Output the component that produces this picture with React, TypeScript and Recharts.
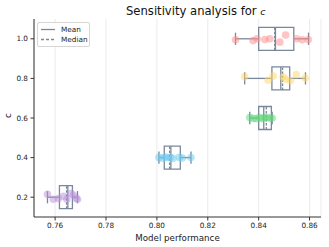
import React from 'react';
import {
  ComposedChart, Scatter, XAxis, YAxis, CartesianGrid, ReferenceArea, ReferenceLine, Label,
} from 'recharts';

// categories (c values)
const CATEGORIES = [0.2, 0.4, 0.6, 0.8, 1.0];
const Y_TICKS = [0.2, 0.4, 0.6, 0.8, 1.0];
const X_TICKS = [0.76, 0.78, 0.8, 0.82, 0.84, 0.86];

// box statistics per category
const WHISKER_LOW = [0.757, 0.8008, 0.8365, 0.8345, 0.8309];
const Q1 = [0.7617, 0.8029, 0.84, 0.8452, 0.84];
const MEDIAN = [0.7645, 0.805, 0.843, 0.8494, 0.8463];
const MEAN = [0.765, 0.8055, 0.842, 0.8487, 0.8466];
const Q3 = [0.7668, 0.8092, 0.845, 0.8522, 0.8538];
const WHISKER_HIGH = [0.7688, 0.8134, 0.8453, 0.8584, 0.8596];

// individual runs (model performance) and their jittered c positions
const PERF_02 = [0.757, 0.7593, 0.7613, 0.7633, 0.7646, 0.7663, 0.7672, 0.7683, 0.7688];
const JIT_02 = [0.215, 0.19, 0.193, 0.205, 0.19, 0.22, 0.21, 0.195, 0.19];
const PERF_04 = [0.8008, 0.8021, 0.8033, 0.8043, 0.8053, 0.8063, 0.8088, 0.81, 0.8134];
const JIT_04 = [0.401, 0.397, 0.403, 0.399, 0.402, 0.396, 0.401, 0.398, 0.4];
const PERF_06 = [0.8365, 0.8378, 0.8391, 0.8403, 0.8413, 0.8423, 0.8433, 0.8444, 0.8453];
const JIT_06 = [0.602, 0.598, 0.596, 0.603, 0.597, 0.601, 0.604, 0.599, 0.6];
const PERF_08 = [0.8345, 0.8437, 0.8457, 0.8496, 0.8505, 0.8525, 0.8548, 0.8583];
const JIT_08 = [0.809, 0.791, 0.812, 0.807, 0.796, 0.789, 0.819, 0.802];
const PERF_10 = [0.8309, 0.8378, 0.8394, 0.8424, 0.8444, 0.8483, 0.8506, 0.8549, 0.8571, 0.8595];
const JIT_10 = [0.995, 0.991, 1.0, 0.996, 1.0, 0.983, 1.019, 1.0, 0.995, 0.996];

const POINT_COLORS = ['#b991dc', '#6cc9f0', '#62d67a', '#ffd866', '#ff8a8a'];
const BOX_COLOR = '#7a889c';
const BOX_HALF = 0.058;
const CAP_HALF = 0.031;

const SERIES = [
  [PERF_02, JIT_02],
  [PERF_04, JIT_04],
  [PERF_06, JIT_06],
  [PERF_08, JIT_08],
  [PERF_10, JIT_10],
].map(([xs, ys], i) => ({ color: POINT_COLORS[i], data: xs.map((x, j) => ({ x, y: ys[j] })) }));

const FONT = 'DejaVu Sans, sans-serif';

export default function App() {
  const boxes: React.ReactNode[] = [];
  CATEGORIES.forEach((c, i) => {
    const k = `b${i}`;
    boxes.push(
      <ReferenceLine key={k + 'wl'} segment={[{ x: WHISKER_LOW[i], y: c }, { x: Q1[i], y: c }]} stroke={BOX_COLOR} strokeWidth={1.3} />,
      <ReferenceLine key={k + 'wh'} segment={[{ x: Q3[i], y: c }, { x: WHISKER_HIGH[i], y: c }]} stroke={BOX_COLOR} strokeWidth={1.3} />,
      <ReferenceLine key={k + 'cl'} segment={[{ x: WHISKER_LOW[i], y: c - CAP_HALF }, { x: WHISKER_LOW[i], y: c + CAP_HALF }]} stroke={BOX_COLOR} strokeWidth={1.3} />,
      <ReferenceLine key={k + 'ch'} segment={[{ x: WHISKER_HIGH[i], y: c - CAP_HALF }, { x: WHISKER_HIGH[i], y: c + CAP_HALF }]} stroke={BOX_COLOR} strokeWidth={1.3} />,
      <ReferenceArea key={k + 'box'} x1={Q1[i]} x2={Q3[i]} y1={c - BOX_HALF} y2={c + BOX_HALF} fill="none" fillOpacity={0} stroke={BOX_COLOR} strokeWidth={1.3} strokeOpacity={1} />,
      <ReferenceLine key={k + 'mean'} segment={[{ x: MEAN[i], y: c - BOX_HALF }, { x: MEAN[i], y: c + BOX_HALF }]} stroke={BOX_COLOR} strokeWidth={1.3} />,
      <ReferenceLine key={k + 'med'} segment={[{ x: MEDIAN[i], y: c - BOX_HALF }, { x: MEDIAN[i], y: c + BOX_HALF }]} stroke={BOX_COLOR} strokeWidth={1.3} strokeDasharray="2.5 1.5" />,
    );
  });

  return (
    <div style={{ position: 'absolute', left: 0, top: 0, width: 329, height: 247, background: '#fff', fontFamily: FONT }}>
      <ComposedChart width={329} height={247} margin={{ top: 19, right: 8, bottom: 0, left: 0 }}>
        <CartesianGrid horizontal={false} stroke="#e6e6e6" strokeWidth={0.8} />
        <XAxis
          type="number" dataKey="x" domain={[0.7517, 0.8645]} ticks={X_TICKS} allowDataOverflow
          tickFormatter={(v: number) => v.toFixed(2)} height={30} tickSize={3.5} tickMargin={2}
          stroke="#333" tick={{ fill: '#222', fontSize: 7.3, fontFamily: FONT }}
        >
          <Label value="Model performance" position="insideBottom" offset={6} style={{ fontSize: 8.7, fill: '#222', fontFamily: FONT }} />
        </XAxis>
        <YAxis
          type="number" dataKey="y" domain={[0.1, 1.1]} ticks={Y_TICKS} allowDataOverflow
          tickFormatter={(v: number) => v.toFixed(1)} width={34} tickSize={3.5} tickMargin={2.5}
          stroke="#333" tick={{ fill: '#222', fontSize: 7.3, fontFamily: FONT }}
        >
          <Label value="c" angle={-90} position="insideLeft" offset={8} style={{ fontSize: 8.7, fill: '#222', fontFamily: FONT }} />
        </YAxis>
        <XAxis xAxisId="top" orientation="top" type="number" domain={[0.7517, 0.8645]} height={0} tick={false} tickLine={false} stroke="#333" />
        <YAxis yAxisId="right" orientation="right" type="number" domain={[0.1, 1.1]} width={0} tick={false} tickLine={false} stroke="#333" />
        {SERIES.map((s, i) => (
          <Scatter
            key={i} data={s.data} isAnimationActive={false}
            shape={(p: any) => <circle cx={p.cx} cy={p.cy} r={3.8} fill={s.color} fillOpacity={0.5} />}
          />
        ))}
        {boxes}
      </ComposedChart>
      <div style={{ position: 'absolute', left: 126, top: 4, fontSize: 11.6, color: '#111', whiteSpace: 'nowrap', lineHeight: '14px' }}>
        Sensitivity analysis for <span style={{ fontStyle: 'italic', fontSize: 9.5 }}>c</span>
      </div>
      <div style={{ position: 'absolute', left: 37, top: 22, width: 51, height: 23, border: '1px solid #d6d6d6', borderRadius: 2, background: 'rgba(255,255,255,0.85)', fontSize: 7.3, color: '#222' }}>
        <svg width={16} height={23} style={{ position: 'absolute', left: 2, top: 0 }}>
          <line x1={1} x2={15} y1={6.5} y2={6.5} stroke={BOX_COLOR} strokeWidth={1.3} />
          <line x1={1} x2={15} y1={16.5} y2={16.5} stroke={BOX_COLOR} strokeWidth={1.3} strokeDasharray="3 2" />
        </svg>
        <div style={{ position: 'absolute', left: 23, top: 1.5, lineHeight: '10px' }}>Mean</div>
        <div style={{ position: 'absolute', left: 23, top: 11.5, lineHeight: '10px' }}>Median</div>
      </div>
    </div>
  );
}
